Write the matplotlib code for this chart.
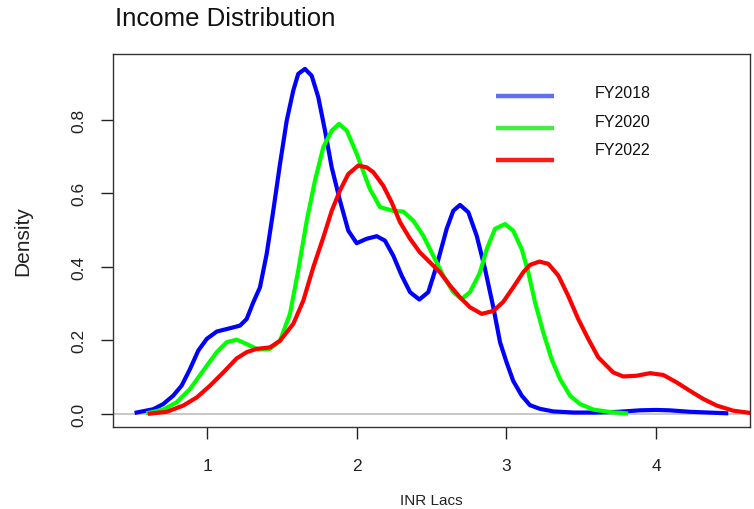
import numpy as np
import matplotlib
matplotlib.use("Agg")
import matplotlib.pyplot as plt

plt.rcParams['font.family'] = ['Liberation Sans', 'DejaVu Sans']

# Kernel density estimates of income (INR lacs), read as (x, density) pairs
fy2018_x = [0.526, 0.637, 0.704, 0.771, 0.827, 0.883, 0.938, 0.995, 1.062, 1.15,
            1.217, 1.262, 1.306, 1.351, 1.396, 1.44, 1.485, 1.53, 1.574, 1.607,
            1.652, 1.697, 1.741, 1.786, 1.831, 1.886, 1.942, 1.998, 2.065, 2.132,
            2.187, 2.243, 2.299, 2.355, 2.417, 2.477, 2.533, 2.6, 2.644, 2.689,
            2.745, 2.801, 2.856, 2.912, 2.957, 3.001, 3.045, 3.102, 3.157, 3.224,
            3.313, 3.45, 3.6, 3.75, 3.893, 4.0, 4.09, 4.227, 4.35, 4.47]
fy2018_y = [0.004, 0.013, 0.027, 0.05, 0.077, 0.122, 0.172, 0.204, 0.224, 0.233,
            0.24, 0.258, 0.303, 0.344, 0.435, 0.552, 0.679, 0.797, 0.879, 0.924,
            0.9375, 0.919, 0.861, 0.77, 0.67, 0.58, 0.498, 0.464, 0.476, 0.483,
            0.471, 0.43, 0.376, 0.331, 0.311, 0.331, 0.403, 0.503, 0.552, 0.568,
            0.548, 0.484, 0.395, 0.29, 0.195, 0.14, 0.09, 0.05, 0.024, 0.014,
            0.007, 0.004, 0.004, 0.006, 0.01, 0.011, 0.01, 0.006, 0.004, 0.002]

fy2020_x = [0.604, 0.704, 0.794, 0.883, 0.972, 1.062, 1.128, 1.195, 1.262, 1.34,
            1.418, 1.485, 1.552, 1.607, 1.664, 1.719, 1.775, 1.831, 1.88, 1.931,
            1.998, 2.065, 2.087, 2.154, 2.243, 2.31, 2.377, 2.444, 2.51, 2.577,
            2.644, 2.7, 2.756, 2.823, 2.868, 2.923, 2.99, 3.045, 3.102, 3.146,
            3.191, 3.246, 3.302, 3.358, 3.425, 3.492, 3.581, 3.7, 3.8]
fy2020_y = [0.003, 0.012, 0.032, 0.068, 0.118, 0.168, 0.195, 0.202, 0.19, 0.175,
            0.177, 0.199, 0.272, 0.39, 0.525, 0.634, 0.725, 0.77, 0.788, 0.77,
            0.707, 0.634, 0.611, 0.562, 0.552, 0.55, 0.525, 0.484, 0.43, 0.376,
            0.331, 0.3125, 0.331, 0.385, 0.448, 0.503, 0.516, 0.498, 0.448, 0.385,
            0.3035, 0.222, 0.149, 0.095, 0.05, 0.027, 0.012, 0.005, 0.002]

fy2022_x = [0.615, 0.727, 0.838, 0.928, 1.017, 1.106, 1.195, 1.262, 1.329, 1.418,
            1.485, 1.574, 1.641, 1.708, 1.775, 1.831, 1.886, 1.942, 2.009, 2.065,
            2.109, 2.176, 2.232, 2.288, 2.355, 2.421, 2.488, 2.555, 2.622, 2.689,
            2.756, 2.834, 2.912, 2.979, 3.045, 3.112, 3.157, 3.219, 3.28, 3.347,
            3.413, 3.48, 3.547, 3.614, 3.714, 3.781, 3.871, 3.96, 4.049, 4.138,
            4.227, 4.316, 4.406, 4.517, 4.629]
fy2022_y = [0.001, 0.006, 0.023, 0.045, 0.077, 0.113, 0.151, 0.168, 0.177, 0.181,
            0.199, 0.245, 0.308, 0.399, 0.48, 0.552, 0.607, 0.652, 0.675, 0.67,
            0.657, 0.62, 0.575, 0.521, 0.476, 0.439, 0.412, 0.385, 0.349, 0.317,
            0.29, 0.272, 0.28, 0.305, 0.344, 0.385, 0.405, 0.414, 0.408, 0.376,
            0.321, 0.258, 0.204, 0.154, 0.113, 0.102, 0.104, 0.111, 0.106, 0.086,
            0.063, 0.041, 0.023, 0.009, 0.003]

labels = ['FY2018', 'FY2020', 'FY2022']
colors = ['#0000ff', '#00ff00', '#ff0000']
legend_colors = ['#6070f0', '#44ee44', '#ff1a1a']

fig = plt.figure(figsize=(7.54, 5.10), dpi=100)
ax = fig.add_axes([113 / 754, 1 - 428 / 510, 637 / 754, 373 / 510])

ax.axhline(0, color='#bebebe', lw=1.2, zorder=1)
for xs, ys, c in zip([fy2018_x, fy2020_x, fy2022_x],
                     [fy2018_y, fy2020_y, fy2022_y], colors):
    ax.plot(xs, ys, color=c, lw=3.0, solid_joinstyle='round', zorder=2)

ax.set_xlim(0.368, 4.629)
ax.set_ylim(-0.0353, 0.978)
ax.set_xticks([1, 2, 3, 4])
ax.set_yticks([0.0, 0.2, 0.4, 0.6, 0.8])
ax.set_yticklabels(['0.0', '0.2', '0.4', '0.6', '0.8'], rotation=90, va='center')
ax.tick_params(axis='both', direction='out', length=8.5, width=1, labelsize=12.5,
               colors='#222222', labelcolor='#222222')
ax.tick_params(axis='x', pad=14)
ax.tick_params(axis='y', pad=11)
for sp in ax.spines.values():
    sp.set_color('#333333')
    sp.set_linewidth(1.0)

ax.set_xlabel('INR Lacs', fontsize=11, labelpad=14, color='#222222')
ax.set_ylabel('Density', fontsize=15, labelpad=28, color='#222222')
fig.text(115 / 754, 1 - 19 / 510, 'Income Distribution', fontsize=18.5,
         ha='left', va='center', color='#111111')

# Hand-placed legend in the upper right, no frame
for i, (lab, lc) in enumerate(zip(labels, legend_colors)):
    ly = 1 - (96.7 + 32 * i - 55) / 373
    ty = 1 - (94 + 28.5 * i - 55) / 373
    ax.plot([(496 - 113) / 637, (554 - 113) / 637], [ly, ly], color=lc, lw=3.2,
            transform=ax.transAxes, solid_capstyle='butt')
    ax.text((595 - 113) / 637, ty, lab, transform=ax.transAxes, fontsize=11.5,
            ha='left', va='center', color='#111111')

fig.savefig('out.png', dpi=100)
